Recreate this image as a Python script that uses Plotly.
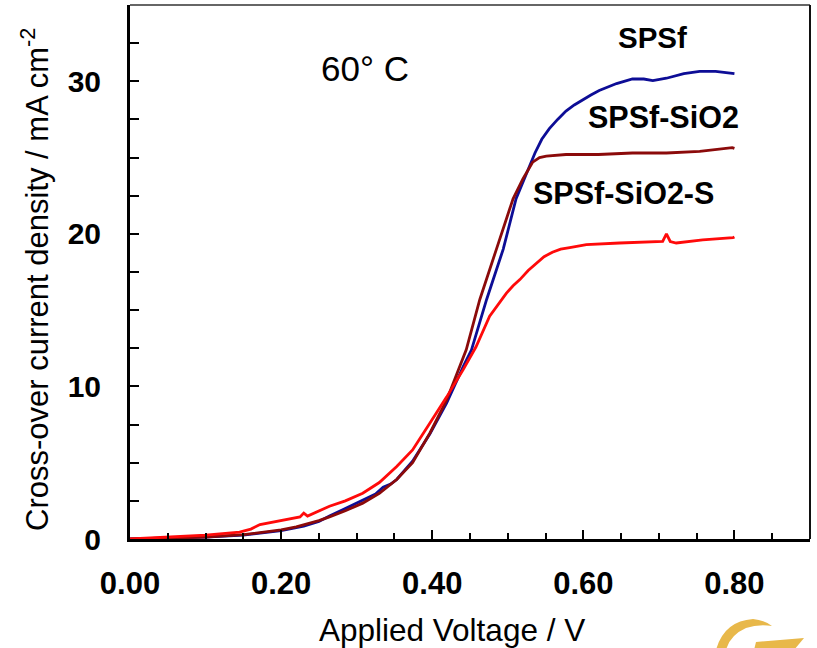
import plotly.graph_objects as go

# ---- data ----
v_spsf = [0, 0.05, 0.10, 0.15, 0.20, 0.23, 0.25, 0.264, 0.29, 0.31, 0.325, 0.335, 0.345, 0.353,
          0.374, 0.397, 0.419, 0.441, 0.452, 0.472, 0.494, 0.511, 0.525, 0.536, 0.545, 0.555,
          0.566, 0.577, 0.588, 0.599, 0.61, 0.621, 0.632, 0.644, 0.665, 0.68, 0.692, 0.71,
          0.733, 0.754, 0.775, 0.797, 0.80]
j_spsf = [0, 0.05, 0.12, 0.25, 0.55, 0.85, 1.15, 1.5, 2.1, 2.6, 2.95, 3.4, 3.6, 3.9,
          5.1, 6.9, 8.9, 11.3, 12.4, 15.7, 19.0, 22.3, 24.0, 25.3, 26.2, 26.9,
          27.5, 28.05, 28.45, 28.8, 29.1, 29.4, 29.6, 29.85, 30.15, 30.15, 30.05, 30.2,
          30.5, 30.65, 30.65, 30.5, 30.5]

v_sio2 = [0, 0.05, 0.10, 0.15, 0.20, 0.22, 0.25, 0.264, 0.285, 0.308, 0.33, 0.353, 0.374,
          0.397, 0.419, 0.445, 0.463, 0.485, 0.507, 0.520, 0.533, 0.542, 0.551, 0.577, 0.62,
          0.665, 0.71, 0.754, 0.797, 0.80]
j_sio2 = [0, 0.05, 0.12, 0.28, 0.6, 0.8, 1.2, 1.45, 1.85, 2.35, 3.0, 3.9, 5.0,
          6.95, 9.1, 12.4, 15.7, 19.0, 22.3, 23.6, 24.7, 25.0, 25.1, 25.2, 25.2,
          25.3, 25.3, 25.4, 25.65, 25.6]

v_sio2s = [0, 0.05, 0.10, 0.145, 0.16, 0.172, 0.20, 0.225, 0.23, 0.235, 0.264, 0.285, 0.308,
           0.33, 0.353, 0.374, 0.397, 0.419, 0.441, 0.458, 0.476, 0.498, 0.507, 0.516, 0.527,
           0.538, 0.548, 0.559, 0.57, 0.582, 0.604, 0.648, 0.692, 0.705, 0.710, 0.715, 0.723,
           0.758, 0.798, 0.80]
j_sio2s = [0, 0.12, 0.25, 0.45, 0.65, 0.95, 1.2, 1.45, 1.7, 1.5, 2.15, 2.5, 3.0,
           3.7, 4.75, 5.84, 7.6, 9.3, 11.1, 12.6, 14.6, 16.1, 16.6, 17.0, 17.6,
           18.1, 18.5, 18.8, 19.0, 19.1, 19.3, 19.4, 19.45, 19.5, 20.0, 19.5, 19.4,
           19.6, 19.75, 19.8]

x_ticks = [0.0, 0.2, 0.4, 0.6, 0.8]
x_ticklabels = ["0.00", "0.20", "0.40", "0.60", "0.80"]
y_ticks = [0, 10, 20, 30]
y_ticklabels = ["0", "10", "20", "30"]

FONT = "Arial, Liberation Sans, sans-serif"

fig = go.Figure()
fig.add_trace(go.Scatter(x=v_spsf, y=j_spsf, mode="lines", name="SPSf",
                         line=dict(color="#0D0D96", width=2.8)))
fig.add_trace(go.Scatter(x=v_sio2, y=j_sio2, mode="lines", name="SPSf-SiO2",
                         line=dict(color="#8B0A0A", width=2.8)))
fig.add_trace(go.Scatter(x=v_sio2s, y=j_sio2s, mode="lines", name="SPSf-SiO2-S",
                         line=dict(color="#FF0A0A", width=2.8)))

L, R, T, B = 130, 7, 5, 109
W, H = 817, 648
PW, PH = W - L - R, H - T - B


def px(xp, yp):
    return (xp - L) / PW, (H - B - yp) / PH


fig.update_layout(
    width=W, height=H,
    margin=dict(l=L, r=R, t=T, b=B),
    paper_bgcolor="white", plot_bgcolor="white",
    showlegend=False,
    font=dict(family=FONT, color="black"),
    xaxis=dict(range=[0, 0.9], tickvals=x_ticks, ticktext=x_ticklabels,
               ticks="inside", ticklen=9, tickwidth=2, tickcolor="black",
               showline=True, linecolor="black", linewidth=3,
               showgrid=False, zeroline=False,
               tickfont=dict(size=31, family=FONT, weight="bold", color="black"),
               ticklabelstandoff=15,
               minor=dict(dtick=0.05, ticks="inside", ticklen=6, tickwidth=2,
                          tickcolor="black", showgrid=False)),
    yaxis=dict(range=[0, 35], tickvals=y_ticks, ticktext=y_ticklabels,
               ticks="inside", ticklen=9, tickwidth=2, tickcolor="black",
               showline=True, linecolor="black", linewidth=3,
               showgrid=False, zeroline=False,
               tickfont=dict(size=30, family=FONT, weight="bold", color="black"),
               ticklabelstandoff=20,
               minor=dict(dtick=2.5, ticks="inside", ticklen=9, tickwidth=2,
                          tickcolor="black", showgrid=False)),
)

# top and right frame lines
fig.add_shape(type="line", xref="paper", yref="paper", x0=0, x1=1, y0=1, y1=1,
              line=dict(color="#333333", width=1.5))
fig.add_shape(type="line", xref="paper", yref="paper", x0=1, x1=1, y0=0, y1=1,
              line=dict(color="#111111", width=2))

ann = []
x, y = px(452, 630)
ann.append(dict(x=x, y=y, text="Applied Voltage / V", font=dict(size=31.5, family=FONT)))
x, y = px(35, 280)
ann.append(dict(x=x, y=y, text="Cross-over current density / mA cm<sup>-2</sup>",
                textangle=-90, font=dict(size=31, family=FONT)))
x, y = px(365, 69)
ann.append(dict(x=x, y=y, text="60° C", font=dict(size=35, family=FONT)))
x, y = px(652, 37)
ann.append(dict(x=x, y=y, text="<b>SPSf</b>", font=dict(size=29.5, family=FONT)))
x, y = px(663, 117)
ann.append(dict(x=x, y=y, text="<b>SPSf-SiO2</b>", font=dict(size=30.5, family=FONT)))
x, y = px(623, 193)
ann.append(dict(x=x, y=y, text="<b>SPSf-SiO2-S</b>", font=dict(size=30.5, family=FONT)))
for a in ann:
    a.update(xref="paper", yref="paper", showarrow=False, xanchor="center", yanchor="middle")
    fig.add_annotation(**a)

# decorative logo swoosh (bottom right)
def p(xp, yp):
    a, b = px(xp, yp)
    return f"{a:.4f},{b:.4f}"

arc = (f"M {p(716,650)} Q {p(724,621)} {p(753,619)} Q {p(764,620)} {p(772,626)} "
       f"Q {p(758,624)} {p(746,628)} Q {p(730,635)} {p(726,650)} Z")
wedge = f"M {p(756,642)} L {p(804,638)} L {p(794,650)} L {p(754,650)} Z"
for path in (arc, wedge):
    fig.add_shape(type="path", path=path, xref="paper", yref="paper",
                  fillcolor="#E8B84A", line=dict(width=0), layer="above")

fig.write_html("out.html")
